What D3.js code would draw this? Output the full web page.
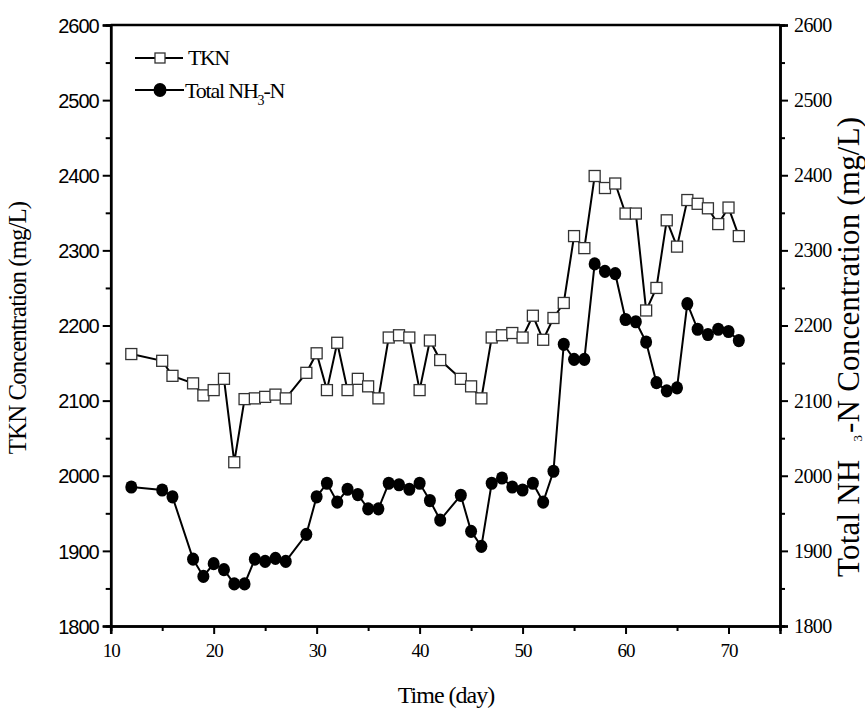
<!DOCTYPE html>
<html>
<head>
<meta charset="utf-8">
<script src="https://cdn.jsdelivr.net/npm/d3@7"></script>
<style>
body { margin: 0; background: #fff; }
text { font-family: "Liberation Serif", "Times New Roman", serif; fill: #000; }
</style>
</head>
<body>
<script>
// days sampled
const days = [12,15,16,18,19,20,21,22,23,24,25,26,27,29,30,31,32,33,34,35,36,37,38,39,40,41,42,44,45,46,47,48,49,50,51,52,53,54,55,56,57,58,59,60,61,62,63,64,65,66,67,68,69,70,71]
// TKN (mg/L)
const tkn = [2162,2153,2133,2123,2107,2114,2129,2018,2102,2103,2105,2108,2103,2137,2163,2114,2177,2114,2129,2119,2103,2184,2187,2184,2114,2180,2154,2129,2119,2103,2184,2187,2190,2184,2213,2181,2210,2230,2319,2303,2399,2383,2389,2349,2349,2220,2250,2340,2305,2367,2362,2356,2335,2357,2319]
// Total NH3-N (mg/L)
const nh3 = [1985,1981,1972,1889,1866,1883,1875,1856,1856,1889,1886,1890,1886,1922,1972,1990,1965,1982,1975,1956,1956,1990,1988,1982,1990,1967,1941,1974,1926,1906,1990,1997,1985,1981,1990,1965,2006,2175,2155,2155,2282,2272,2269,2208,2205,2178,2124,2113,2117,2229,2195,2188,2195,2192,2180]

const xTicks = [10,20,30,40,50,60,70]
const yTicks = [1800,1900,2000,2100,2200,2300,2400,2500,2600]

var svg = d3.select("body").append("svg")
  .attr("width", 865)
  .attr("height", 714)

let padL = 110.7, padR = 780, padT = 25, padB = 626

let x = d3.scaleLinear().domain([10, 75]).range([padL, padR])
let y = d3.scaleLinear().domain([1800, 2600]).range([padB, padT])
let y2 = d3.scaleLinear().domain([1800, 2600]).range([padB, padT])

// frame line on top
svg.append("line")
  .attr("x1", padL).attr("x2", padR)
  .attr("y1", padT).attr("y2", padT)
  .style("stroke", "black").style("stroke-width", 2.5)

// bottom axis
let gx = svg.append("g").attr("transform", "translate(0," + padB + ")")
  .call(d3.axisBottom(x).tickValues(xTicks).tickSize(8).tickPadding(10).tickFormat(d3.format("d")))
gx.selectAll("text").style("font-size", "19px").style("font-family", "Liberation Serif").attr("letter-spacing", "-1px")
gx.append("g").call(d3.axisBottom(x).tickValues([15,25,35,45,55,65]).tickSize(5).tickFormat(""))

// left axis (sans labels)
let gy = svg.append("g").attr("transform", "translate(" + padL + ",0)")
  .call(d3.axisLeft(y).tickValues(yTicks).tickSize(8).tickPadding(4).tickFormat(d3.format("d")))
gy.selectAll("text").style("font-size", "20px").style("font-family", "Liberation Sans").attr("letter-spacing", "-1px").attr("dy", "0.36em")
gy.append("g").call(d3.axisLeft(y).tickValues([1850,1950,2050,2150,2250,2350,2450,2550]).tickSize(5).tickFormat(""))

// right axis
let gy2 = svg.append("g").attr("transform", "translate(" + padR + ",0)")
  .call(d3.axisRight(y2).tickValues(yTicks).tickSize(8).tickPadding(6).tickFormat(d3.format("d")))
gy2.selectAll("text").style("font-size", "20px").style("font-family", "Liberation Serif").attr("letter-spacing", "-0.6px")
gy2.append("g").call(d3.axisRight(y2).tickValues([1850,1950,2050,2150,2250,2350,2450,2550]).tickSize(5).tickFormat(""))

svg.selectAll(".domain").style("stroke-width", 2.5)
svg.selectAll(".tick line").style("stroke-width", 2)

// titles
svg.append("text")
  .attr("x", 446).attr("y", 703)
  .attr("text-anchor", "middle")
  .attr("letter-spacing", "-1px")
  .style("font-size", "24px")
  .text("Time (day)")

svg.append("text")
  .attr("transform", "translate(26,328) rotate(-90)")
  .attr("text-anchor", "middle")
  .attr("letter-spacing", "-1px")
  .style("font-size", "25px")
  .text("TKN Concentration (mg/L)")

let rt = svg.append("text")
  .attr("transform", "translate(859,577) rotate(-90)")
  .attr("letter-spacing", "0.2px")
  .style("font-size", "31px")
rt.append("tspan").text("Total NH")
rt.append("tspan").attr("dy", 3).attr("dx", 18).style("font-size", "13px").text("3")
rt.append("tspan").attr("dy", -3).attr("dx", 2).text("-N Concentration (mg/L)")

// TKN series
let line1 = d3.line().x((d, i) => x(days[i])).y(d => y(d))
svg.append("path")
  .attr("d", line1(tkn))
  .style("fill", "none").style("stroke", "black").style("stroke-width", 2)
svg.selectAll(".sq").data(tkn).enter().append("rect")
  .attr("x", (d, i) => x(days[i]) - 5.5)
  .attr("y", d => y(d) - 5.5)
  .attr("width", 11).attr("height", 11)
  .style("fill", "white").style("stroke", "#333").style("stroke-width", 1.3)

// NH3 series
let line2 = d3.line().x((d, i) => x(days[i])).y(d => y2(d))
svg.append("path")
  .attr("d", line2(nh3))
  .style("fill", "none").style("stroke", "black").style("stroke-width", 2)
svg.selectAll(".ci").data(nh3).enter().append("ellipse")
  .attr("cx", (d, i) => x(days[i]))
  .attr("cy", d => y2(d))
  .attr("rx", 6).attr("ry", 6.6)
  .style("fill", "black")

// legend
svg.append("line").attr("x1", 135).attr("x2", 183).attr("y1", 58).attr("y2", 58)
  .style("stroke", "black").style("stroke-width", 2)
svg.append("rect").attr("x", 155).attr("y", 53).attr("width", 10).attr("height", 10)
  .style("fill", "white").style("stroke", "#333").style("stroke-width", 1.3)
svg.append("text").attr("x", 188).attr("y", 65).attr("letter-spacing", "-1.5px")
  .style("font-size", "22px").text("TKN")

svg.append("line").attr("x1", 135).attr("x2", 184).attr("y1", 90).attr("y2", 90)
  .style("stroke", "black").style("stroke-width", 2)
svg.append("ellipse").attr("cx", 160).attr("cy", 90).attr("rx", 6.5).attr("ry", 7)
  .style("fill", "black")
let lt = svg.append("text").attr("x", 185).attr("y", 98).attr("letter-spacing", "-1.2px")
  .style("font-size", "22px")
lt.append("tspan").text("Total NH")
lt.append("tspan").attr("dy", 7).style("font-size", "14px").text("3")
lt.append("tspan").attr("dy", -7).text("-N")
</script>
</body>
</html>
